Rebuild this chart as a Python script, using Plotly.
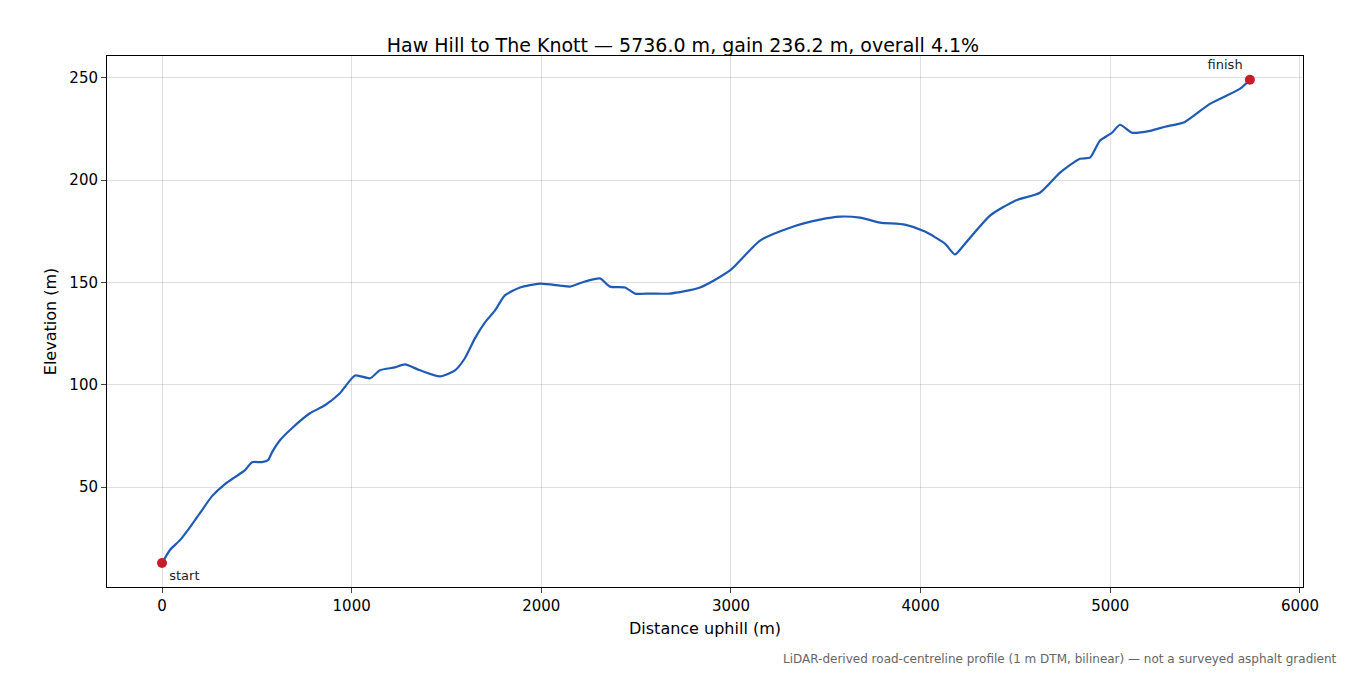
import plotly.graph_objects as go

dist = [0,42,95,148,200,264,332,385,438,475,527,559,580,622,685,780,859,938,1018,1097,1149,1228,1281,1360,1466,1545,1597,1650,1703,1755,1808,1888,1993,2098,2151,2230,2309,2362,2441,2494,2573,2678,2837,2995,3153,3311,3469,3575,3680,3786,3917,4023,4128,4181,4234,4366,4498,4629,4735,4840,4893,4945,5009,5051,5114,5209,5288,5393,5525,5683,5736]
elev = [12.9,19.3,24.1,30.5,37.3,45.6,51.5,54.9,58.3,62.2,62.2,63.2,67,72.9,78.8,86.1,90,95.9,104.6,103.2,107.1,108.5,110,107.1,104.1,107.1,113,122.7,130.5,136.3,143.7,147.6,149.5,148.5,148.0,150.5,152,148,147.6,144.6,144.6,144.6,147.6,155.9,170.5,176.8,180.7,182.2,181.7,179.3,178.3,174.9,169.0,163.7,169,182.7,190,193.9,203.7,210.5,211,219.3,223.2,227.1,223.2,224.1,226.1,228.5,237.3,244.6,249.1]

fig = go.Figure()
fig.add_trace(go.Scatter(x=dist, y=elev, mode="lines", line=dict(color="#1f5bb4", width=2.2, shape="spline", smoothing=0.6)))
fig.add_trace(go.Scatter(x=[dist[0], dist[-1]], y=[elev[0], elev[-1]], mode="markers+text",
                         marker=dict(color="#c41e2a", size=10), text=["start", "finish"],
                         textposition=["bottom right", "top left"], textfont=dict(size=13, color="#222")))
ax = dict(showline=True, linecolor="black", mirror=True, ticks="outside", ticklen=5,
          gridcolor="rgba(0,0,0,0.12)", zeroline=False, tickfont=dict(size=15, color="black"))
tf = dict(size=16, color="black")
fig.update_layout(
    width=1350, height=675, plot_bgcolor="white", paper_bgcolor="white", showlegend=False,
    font=dict(family="DejaVu Sans"),
    margin=dict(l=99, r=55, t=48, b=96),
    title=dict(text="Haw Hill to The Knott — 5736.0 m, gain 236.2 m, overall 4.1%", x=0.5, y=0.955,
               xanchor="center", font=dict(size=19, color="black")),
    xaxis=dict(ax, range=[-290, 6016], tickvals=[0,1000,2000,3000,4000,5000,6000],
               title=dict(text="Distance uphill (m)", font=tf, standoff=8)),
    yaxis=dict(ax, range=[1.2, 260.7], tickvals=[50,100,150,200,250],
               title=dict(text="Elevation (m)", font=tf, standoff=8)),
)
fig.add_annotation(text="LiDAR-derived road-centreline profile (1 m DTM, bilinear) — not a surveyed asphalt gradient",
                   xref="paper", yref="paper", x=1.03, y=-0.118, xanchor="right", yanchor="top",
                   showarrow=False, font=dict(size=12, color="#666"))
fig.write_html("out.html")
